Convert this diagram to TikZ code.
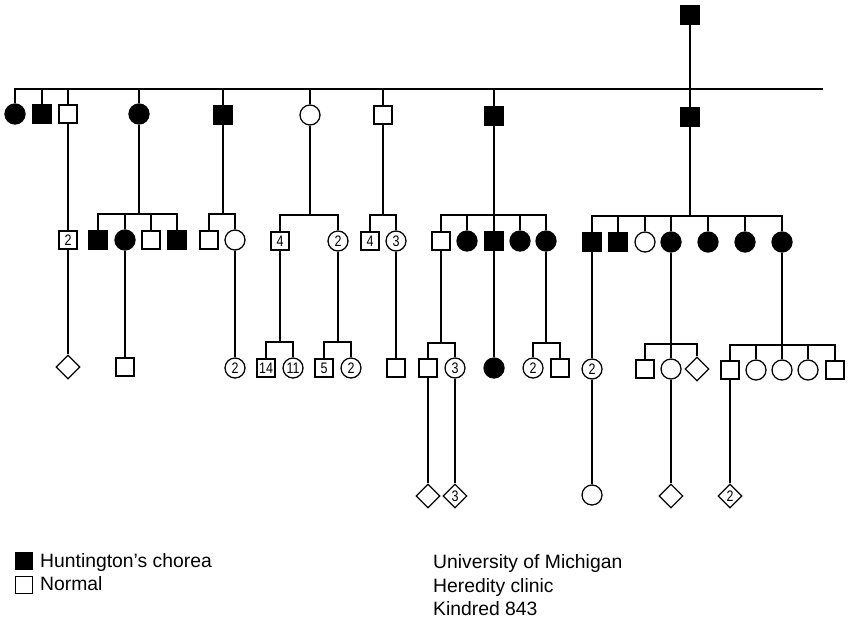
\documentclass[tikz,border=0pt]{standalone}
\usepackage{fontspec}
\setmainfont{Liberation Sans}
\newfontfamily\numfont{Liberation Sans}[FakeStretch=0.82]
\usetikzlibrary{shapes,positioning}

\begin{document}
\begin{tikzpicture}[x=0.03cm, y=-0.03cm,
    male/.style={rectangle, draw, line width=1.1pt, minimum size=0.54cm, inner sep=0pt, font=\numfont\fontsize{13}{13}\selectfont},
    female/.style={circle, draw, line width=1.1pt, minimum size=0.6cm, inner sep=0pt, font=\numfont\fontsize{13}{13}\selectfont},
    unknown/.style={diamond, draw, line width=1.1pt, minimum width=0.72cm, minimum height=0.72cm, inner sep=0pt, font=\numfont\fontsize{13}{13}\selectfont},
    aff/.style={fill=black},
    line/.style={line width=1.4pt},
    legend/.style={inner sep=0pt, font=\fontsize{16.5}{20}\selectfont}
]
\useasboundingbox (0,0) rectangle (853,618);

% generation I and II
\node[male, aff] (t) at (690,15) {};
\node[female, aff] (a1) at (15,114) {};
\node[male, aff] (a2) at (42,114) {};
\node[male] (a3) at (68,114) {};
\node[female, aff] (a4) at (139,114) {};
\node[male, aff] (a5) at (223,115) {};
\node[female] (a6) at (310,115) {};
\node[male] (a7) at (383,115) {};
\node[male, aff] (a8) at (494,116) {};
\node[male, aff] (a9) at (690,117) {};

\coordinate (hr) at (823,89);
\draw[line] (a1) |- (hr);
\draw[line] (t) -- (a9);
\draw[line] (a2) -- (a2 |- hr);
\draw[line] (a3) -- (a3 |- hr);
\draw[line] (a4) -- (a4 |- hr);
\draw[line] (a5) -- (a5 |- hr);
\draw[line] (a6) -- (a6 |- hr);
\draw[line] (a7) -- (a7 |- hr);
\draw[line] (a8) -- (a8 |- hr);

% generation III
\node[male] (b1) at (68,240) {2};
\node[male, aff] (b2) at (98,240) {};
\node[female, aff] (b3) at (125,240) {};
\node[male] (b4) at (151,240) {};
\node[male, aff] (b5) at (177,240) {};
\node[male] (b6) at (209,240) {};
\node[female] (b7) at (235,240) {};
\node[male] (b8) at (280,241) {4};
\node[female] (b9) at (338,241) {2};
\node[male] (b10) at (370,241) {4};
\node[female] (b11) at (396,241) {3};
\node[male] (b12) at (441,241) {};
\node[female, aff] (b13) at (467,241) {};
\node[male, aff] (b14) at (494,241) {};
\node[female, aff] (b15) at (520,241) {};
\node[female, aff] (b16) at (546,241) {};
\node[male, aff] (b17) at (592,242) {};
\node[male, aff] (b18) at (618,242) {};
\node[female] (b19) at (645,242) {};
\node[female, aff] (b20) at (671,242) {};
\node[female, aff] (b21) at (708,242) {};
\node[female, aff] (b22) at (745,242) {};
\node[female, aff] (b23) at (782,242) {};

\draw[line] (a3) -- (b1);
\coordinate (ka4) at (139,214);
\draw[line] (a4) -- (ka4);
\draw[line] (b2) |- (ka4) -| (b5);
\draw[line] (b3) -- (b3 |- ka4);
\draw[line] (b4) -- (b4 |- ka4);
\coordinate (ka5) at (223,214);
\draw[line] (a5) -- (ka5);
\draw[line] (b6) |- (ka5) -| (b7);
\coordinate (ka6) at (310,215);
\draw[line] (a6) -- (ka6);
\draw[line] (b8) |- (ka6) -| (b9);
\coordinate (ka7) at (383,215);
\draw[line] (a7) -- (ka7);
\draw[line] (b10) |- (ka7) -| (b11);
\coordinate (ka8) at (494,215);
\draw[line] (a8) -- (b14);
\draw[line] (b12) |- (ka8) -| (b16);
\draw[line] (b13) -- (b13 |- ka8);
\draw[line] (b15) -- (b15 |- ka8);
\coordinate (ka9) at (690,216);
\draw[line] (a9) -- (ka9);
\draw[line] (b17) |- (ka9) -| (b23);
\draw[line] (b18) -- (b18 |- ka9);
\draw[line] (b19) -- (b19 |- ka9);
\draw[line] (b20) -- (b20 |- ka9);
\draw[line] (b21) -- (b21 |- ka9);
\draw[line] (b22) -- (b22 |- ka9);

% generation IV
\node[unknown] (c1) at (68,367) {};
\node[male] (c2) at (125,367) {};
\node[female] (c3) at (235,368) {2};
\node[male] (c4) at (266,368) {14};
\node[female] (c5) at (293,368) {11};
\node[male] (c6) at (324,368) {5};
\node[female] (c7) at (351,368) {2};
\node[male] (c8) at (396,368) {};
\node[male] (c9) at (428,368) {};
\node[female] (c10) at (455,368) {3};
\node[female, aff] (c11) at (494,368) {};
\node[female] (c12) at (533,368) {2};
\node[male] (c13) at (560,368) {};
\node[female] (c14) at (592,369) {2};
\node[male] (c15) at (645,369) {};
\node[female] (c16) at (671,369) {};
\node[unknown] (c17) at (697,369) {};
\node[male] (c18) at (730,370) {};
\node[female] (c19) at (756,370) {};
\node[female] (c20) at (782,370) {};
\node[female] (c21) at (808,370) {};
\node[male] (c22) at (835,370) {};

\draw[line] (b1) -- (c1);
\draw[line] (b3) -- (c2);
\draw[line] (b7) -- (c3);
\coordinate (kb8) at (280,342);
\draw[line] (b8) -- (kb8);
\draw[line] (c4) |- (kb8) -| (c5);
\coordinate (kb9) at (338,342);
\draw[line] (b9) -- (kb9);
\draw[line] (c6) |- (kb9) -| (c7);
\draw[line] (b11) -- (c8);
\coordinate (kb12) at (441,343);
\draw[line] (b12) -- (kb12);
\draw[line] (c9) |- (kb12) -| (c10);
\draw[line] (b14) -- (c11);
\coordinate (kb16) at (546,343);
\draw[line] (b16) -- (kb16);
\draw[line] (c12) |- (kb16) -| (c13);
\draw[line] (b17) -- (c14);
\coordinate (kb20) at (671,344);
\draw[line] (b20) -- (c16);
\draw[line] (c15) |- (kb20) -| (c17);
\coordinate (kb23) at (782,345);
\draw[line] (b23) -- (c20);
\draw[line] (c18) |- (kb23) -| (c22);
\draw[line] (c19) -- (c19 |- kb23);
\draw[line] (c21) -- (c21 |- kb23);

% generation V
\node[unknown] (d1) at (428,496) {};
\node[unknown] (d2) at (455,496) {3};
\node[female] (d3) at (592,495) {};
\node[unknown] (d4) at (671,496) {};
\node[unknown] (d5) at (730,496) {2};

\draw[line] (c9) -- (d1);
\draw[line] (c10) -- (d2);
\draw[line] (c14) -- (d3);
\draw[line] (c16) -- (d4);
\draw[line] (c18) -- (d5);

% legend
\node[male, aff, minimum size=0.5cm] (lg1) at (24,561) {};
\node[male, minimum size=0.5cm] (lg2) at (24,585) {};
\node[legend, anchor=base west] (lt1) at (40,567) {Huntington's chorea};
\node[legend, anchor=base west] (lt2) at (40,590) {Normal};
\node[legend, anchor=base west] (uni) at (433,568) {University of Michigan};
\node[legend, anchor=base west] (clinic) at (433,592) {Heredity clinic};
\node[legend, anchor=base west] (kin) at (433,615) {Kindred 843};
\end{tikzpicture}
\end{document}
